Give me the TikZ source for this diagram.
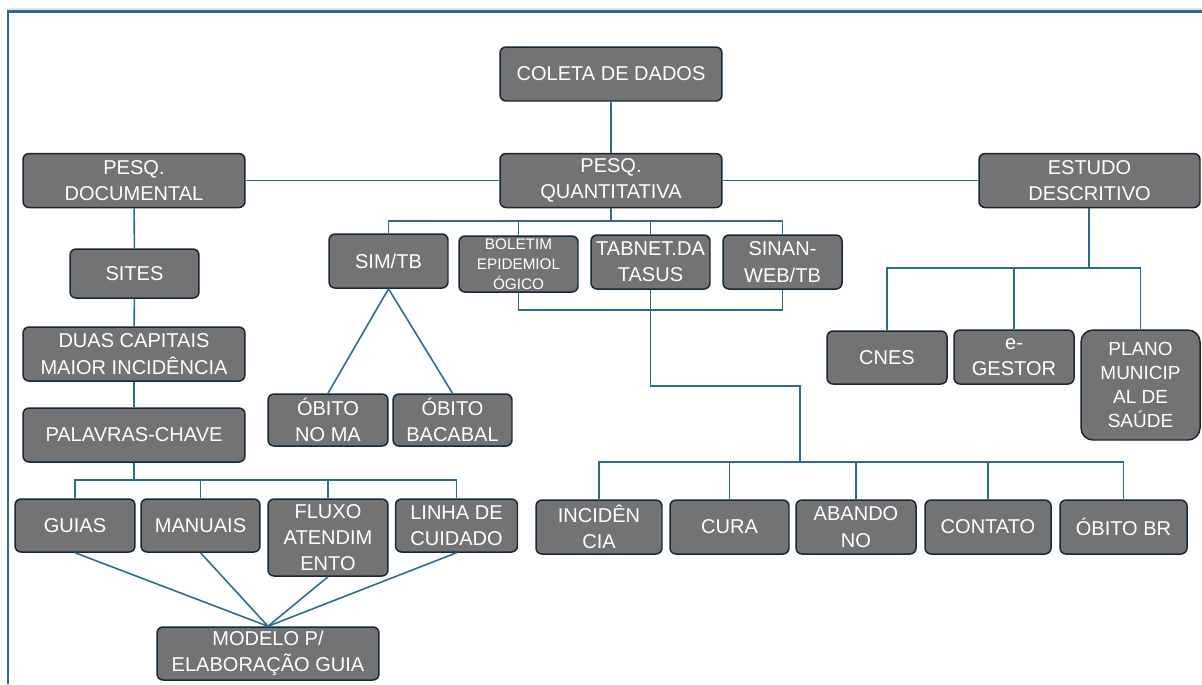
\documentclass[tikz,border=0pt]{standalone}
\usepackage{fontspec}
\setmainfont{Liberation Sans}
\usepackage{tikz}
\usetikzlibrary{positioning}

\definecolor{boxfill}{HTML}{737373}
\definecolor{boxedge}{HTML}{142A3B}
\definecolor{linkc}{HTML}{2A6D8F}

\tikzset{
	box/.style={draw=boxedge, fill=boxfill, line width=0.85pt, rounded corners=0.12cm,
		text=white, align=center, inner sep=0pt, font=\fontsize{11.4}{15}\selectfont},
	conn/.style={draw=linkc, line width=0.9pt},
}

\begin{document}
\begin{tikzpicture}[x=0.02cm, y=-0.02cm]
	\useasboundingbox (0,0) rectangle (1202,684);
	
	% Frame
	\draw[gray!20, line width=0.8pt] (7,9) -- (1202,9);
	\draw[linkc, line width=1.2pt] (8,684) -- (8,11.5) -- (1202,11.5);
	
	% Top of the tree
	\node[box, minimum width=4.44cm, minimum height=1.08cm] (coleta) at (611,74) {COLETA DE DADOS};
	\node[box, minimum width=4.44cm, minimum height=1.08cm] (quanti) at (611,180.5) {PESQ.\\QUANTITATIVA};
	\node[box, minimum width=4.44cm, minimum height=1.08cm] (docum) at (134,180.5) {PESQ.\\DOCUMENTAL};
	\node[box, minimum width=4.42cm, minimum height=1.08cm] (estudo) at (1089.5,180.5) {ESTUDO\\DESCRITIVO};
	
	% Documental branch
	\node[box, minimum width=2.58cm, minimum height=0.98cm] (sites) at (134.5,273.5) {SITES};
	\node[box, minimum width=4.44cm, minimum height=1.08cm] (duas) at (134,354) {DUAS CAPITAIS\\MAIOR INCIDÊNCIA};
	\node[box, minimum width=4.44cm, minimum height=1.08cm] (palavras) at (134,435) {PALAVRAS-CHAVE};
	\node[box, minimum width=2.4cm, minimum height=1.06cm] (guias) at (75,525.5) {GUIAS};
	\node[box, minimum width=2.38cm, minimum height=1.06cm] (manuais) at (200.5,525.5) {MANUAIS};
	\node[box, minimum width=2.4cm, minimum height=1.54cm] (fluxo) at (328,537.5) {FLUXO\\ATENDIM\\ENTO};
	\node[box, minimum width=2.44cm, minimum height=1.06cm] (linha) at (456.5,525.5) {LINHA DE\\CUIDADO};
	\node[box, minimum width=4.44cm, minimum height=1.06cm] (modelo) at (268,653.5) {MODELO P/\\ELABORAÇÃO GUIA};
	
	% Quantitative branch
	\node[box, minimum width=2.38cm, minimum height=1.08cm] (simtb) at (388.5,261) {SIM/TB};
	\node[box, minimum width=2.38cm, minimum height=1.12cm, font=\fontsize{8.7}{11.5}\selectfont] (boletim) at (518.5,264) {BOLETIM\\EPIDEMIOL\\ÓGICO};
	\node[box, minimum width=2.38cm, minimum height=1.08cm] (tabnet) at (650.5,262) {TABNET.DA\\TASUS};
	\node[box, minimum width=2.38cm, minimum height=1.08cm] (sinan) at (782.5,262) {SINAN-\\WEB/TB};
	\node[box, minimum width=2.4cm, minimum height=1.04cm] (obitoma) at (328,420) {ÓBITO\\NO MA};
	\node[box, minimum width=2.38cm, minimum height=1.04cm] (obitobac) at (452.5,420) {ÓBITO\\BACABAL};
	\node[box, minimum width=2.52cm, minimum height=1.08cm] (incid) at (599,527) {INCIDÊN\\CIA};
	\node[box, minimum width=2.38cm, minimum height=1.08cm] (cura) at (729.5,527) {CURA};
	\node[box, minimum width=2.4cm, minimum height=1.08cm] (abandono) at (856,527) {ABANDO\\NO};
	\node[box, minimum width=2.52cm, minimum height=1.08cm] (contato) at (988,527) {CONTATO};
	\node[box, minimum width=2.54cm, minimum height=1.08cm] (obitobr) at (1123.5,527) {ÓBITO BR};
	
	% Descriptive branch
	\node[box, minimum width=2.4cm, minimum height=1.06cm] (cnes) at (887,357.5) {CNES};
	\node[box, minimum width=2.4cm, minimum height=1.08cm] (egestor) at (1014,357) {e-\\GESTOR};
	\node[box, minimum width=2.38cm, minimum height=2.2cm, rounded corners=0.24cm,
		font=\fontsize{10.8}{13.8}\selectfont] (plano) at (1140.5,385) {PLANO\\MUNICIP\\AL DE\\SAÚDE};
	
	% Bus points
	\coordinate (qbus) at (611,221);
	\coordinate (dbus) at (650,310);
	\coordinate (elbow) at (800,386);
	\coordinate (rbus) at (800,462);
	\coordinate (ebus) at (1089,268);
	\coordinate (pbus) at (134,480);
	
	% Connectors on top
	\draw[conn] (coleta) -- (quanti);
	\draw[conn] (docum.east) -- (quanti.west);
	\draw[conn] (quanti.east) -- (estudo.west);
	
	% Documental connectors
	\draw[conn] (docum) -- (sites);
	\draw[conn] (sites) -- (duas);
	\draw[conn] (duas) -- (palavras);
	\draw[conn] (palavras.south) -- (pbus);
	\draw[conn] (guias.north) |- (pbus) -| (linha.north);
	\draw[conn] (manuais.north) -- (manuais.north |- pbus);
	\draw[conn] (fluxo.north) -- (fluxo.north |- pbus);
	\foreach \n in {guias, manuais, fluxo, linha}
		\draw[conn] (\n.south) -- (modelo.north);
	
	% Quantitative connectors
	\draw[conn] (quanti.south) -- (qbus);
	\draw[conn] (simtb.north) |- (qbus) -| (sinan.north);
	\draw[conn] (boletim.north) -- (boletim.north |- qbus);
	\draw[conn] (tabnet.north) -- (tabnet.north |- qbus);
	\draw[conn] (simtb.south) -- (obitoma.north);
	\draw[conn] (simtb.south) -- (obitobac.north);
	\draw[conn] (boletim.south) |- (dbus) -| (sinan.south);
	\draw[conn] (tabnet.south) |- (elbow) -- (rbus);
	\draw[conn] (incid.north) |- (rbus) -| (obitobr.north);
	\foreach \n in {cura, abandono, contato}
		\draw[conn] (\n.north) -- (\n.north |- rbus);
	
	% Descriptive connectors
	\draw[conn] (estudo.south -| ebus) -- (ebus);
	\draw[conn] (cnes.north) |- (ebus) -| (plano.north);
	\draw[conn] (egestor.north) -- (egestor.north |- ebus);
\end{tikzpicture}
\end{document}
